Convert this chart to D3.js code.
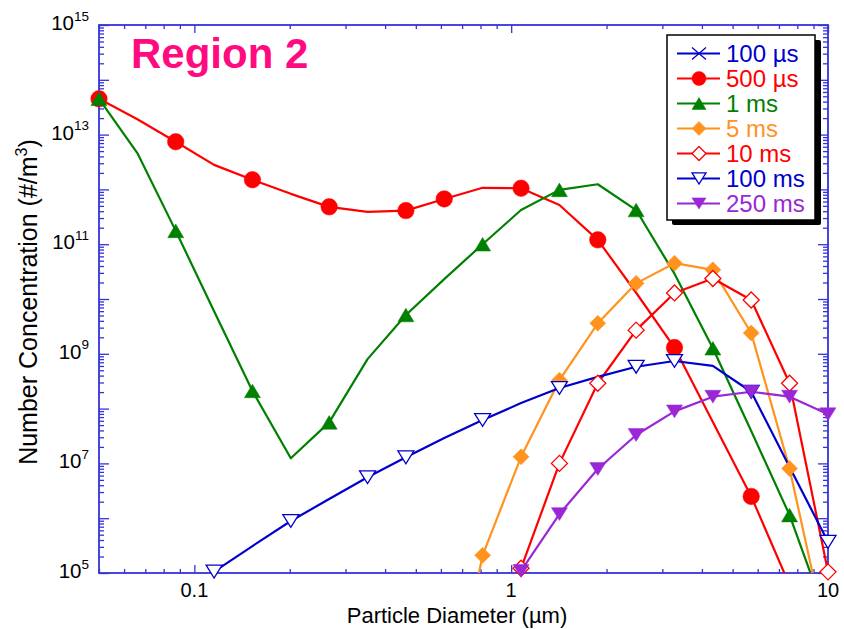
<!DOCTYPE html>
<html><head><meta charset="utf-8">
<script src="https://cdn.jsdelivr.net/npm/d3@7"></script>
<style>
body{margin:0;background:#fff}
svg{display:block}
text{font-family:"Liberation Sans",Arial,Helvetica,sans-serif}
</style>
</head><body>
<svg id="c" width="844" height="629"></svg>
<script>
// ---- data ----
const diameters = [0.05, 0.06608, 0.08733, 0.11541, 0.15252, 0.20156, 0.26637, 0.35201, 0.46519, 0.61475,
                   0.81241, 1.0743, 1.4199, 1.8764, 2.4797, 3.2770, 4.3306, 5.7229, 7.5628, 10.0];
const seriesNames = ["100 µs", "500 µs", "1 ms", "5 ms", "10 ms", "100 ms", "250 ms"];
const s100us = [];
const s500us = [4.5e13, 1.9e13, 7.4e12, 2.8e12, 1.5e12, 8.3e11, 4.8e11, 3.9e11, 4.1e11, 6.7e11,
                1.07e12, 1.05e12, 5.2e11, 1.2e11, 1.3e10, 1.3e9, 5.7e7, 2.5e6, 6e4, null];
const s1ms   = [4.5e13, 4.6e12, 1.75e11, 6.0e9, 2.1e8, 1.24e7, 5.6e7, 8.0e8, 5.1e9, 2.3e10,
                1.0e11, 4.2e11, 9.8e11, 1.24e12, 4.2e11, 2.9e10, 1.26e9, 3.9e7, 1.14e6, 1.3e4];
const s5ms   = [null, null, null, null, null, null, null, null, null, 80,
                2.1e5, 1.32e7, 3.3e8, 3.6e9, 1.93e10, 4.5e10, 3.4e10, 2.4e9, 8.1e6, 5.2e3];
const s10ms  = [null, null, null, null, null, null, null, null, null, null,
                null, 1.22e5, 1.0e7, 2.9e8, 2.7e9, 1.29e10, 2.37e10, 9.6e9, 2.9e8, 1.05e5];
const s100ms = [null, null, null, 1.06e5, 3.1e5, 8.9e5, 2.24e6, 5.6e6, 1.29e7, 2.9e7,
                6.2e7, 1.26e8, 2.38e8, 3.8e8, 5.8e8, 7.4e8, 6.0e8, 2.03e8, 8.6e6, 3.7e5];
const s250ms = [null, null, null, null, null, null, null, null, null, null,
                null, 1.09e5, 1.19e6, 7.9e6, 3.3e7, 8.9e7, 1.65e8, 2.03e8, 1.65e8, 7.9e7];
// indices of points that carry a marker
const m100us = [];
const m500us = [0, 2, 4, 6, 8, 9, 11, 13, 15, 17];
const m1ms   = [0, 2, 4, 6, 8, 10, 12, 14, 16, 18];
const m5ms   = [10, 11, 12, 13, 14, 15, 16, 17, 18];
const m10ms  = [11, 12, 13, 14, 15, 16, 17, 18, 19];
const m100ms = [3, 5, 7, 8, 10, 12, 14, 15, 17, 19];
const m250ms = [11, 12, 13, 14, 15, 16, 17, 18, 19];
const xTickLabels = ["0.1", "1", "10"];
const yLabelExponents = [5, 7, 9, 11, 13, 15];

// ---- style ----
const styles = [
  {color:"#0000cc", marker:"x"},
  {color:"#ff0000", marker:"circle"},
  {color:"#008000", marker:"triUp"},
  {color:"#ff931e", marker:"diamond"},
  {color:"#ff0000", marker:"diamondOpen"},
  {color:"#0000cc", marker:"triDownOpen"},
  {color:"#9a27d6", marker:"triDown"}
];
const seriesVals = [s100us, s500us, s1ms, s5ms, s10ms, s100ms, s250ms];
const seriesMarks = [m100us, m500us, m1ms, m5ms, m10ms, m100ms, m250ms];

const L = 99, R = 828, T = 25, B = 573;
const axisColor = "#3333dd";
const svg = d3.select("#c");

const x = d3.scaleLog().domain([0.05, 10]).range([L, R]);
const y = d3.scaleLog().domain([1e5, 1e15]).range([B, T]);

svg.append("defs").append("clipPath").attr("id", "clip")
  .append("rect").attr("x", L).attr("y", T).attr("width", R - L).attr("height", B - T);

// ---- axes ----
const isMajor = v => Math.abs(Math.log10(v) - Math.round(Math.log10(v))) < 1e-6;
const xt = x.ticks();
const xMaj = xt.filter(isMajor), xMin = xt.filter(v => !isMajor(v));
const yt = y.ticks(20);
const yMaj = yt.filter(isMajor), yMin = yt.filter(v => !isMajor(v));

function styleAxis(g){
  g.select(".domain").remove();
  g.selectAll(".tick line").attr("stroke", axisColor).attr("stroke-width", 1.3);
  g.selectAll(".tick text").remove();
}
svg.append("g").attr("transform", `translate(0,${B})`).call(d3.axisBottom(x).tickValues(xMin).tickSize(-4)).call(styleAxis);
svg.append("g").attr("transform", `translate(0,${B})`).call(d3.axisBottom(x).tickValues(xMaj).tickSize(-8)).call(styleAxis);
svg.append("g").attr("transform", `translate(0,${T})`).call(d3.axisTop(x).tickValues(xMin).tickSize(-4)).call(styleAxis);
svg.append("g").attr("transform", `translate(0,${T})`).call(d3.axisTop(x).tickValues(xMaj).tickSize(-8)).call(styleAxis);
svg.append("g").attr("transform", `translate(${L},0)`).call(d3.axisLeft(y).tickValues(yMin).tickSize(-5)).call(styleAxis);
svg.append("g").attr("transform", `translate(${L},0)`).call(d3.axisLeft(y).tickValues(yMaj).tickSize(-10)).call(styleAxis);
svg.append("g").attr("transform", `translate(${R},0)`).call(d3.axisRight(y).tickValues(yMin).tickSize(-5)).call(styleAxis);
svg.append("g").attr("transform", `translate(${R},0)`).call(d3.axisRight(y).tickValues(yMaj).tickSize(-10)).call(styleAxis);

svg.append("rect").attr("x", L).attr("y", T).attr("width", R - L).attr("height", B - T)
  .attr("fill", "none").attr("stroke", axisColor).attr("stroke-width", 1.8);

// tick labels
xMaj.forEach((v, i) => {
  svg.append("text").attr("x", x(v)).attr("y", 597).attr("text-anchor", "middle")
    .attr("font-size", 20).attr("fill", "#000").text(xTickLabels[i]);
});
yLabelExponents.forEach(e => {
  const t = svg.append("text").attr("x", 89).attr("y", y(Math.pow(10, e)) + 5)
    .attr("text-anchor", "end").attr("fill", "#000");
  t.append("tspan").attr("font-size", 20.5).text("10");
  t.append("tspan").attr("font-size", 13.5).attr("dy", -9.5).text(String(e));
});

// axis titles
svg.append("text").attr("x", 457).attr("y", 623).attr("text-anchor", "middle")
  .attr("font-size", 22).attr("fill", "#000").text("Particle Diameter (µm)");
const yt2 = svg.append("text").attr("transform", "translate(37,302) rotate(-90)")
  .attr("text-anchor", "middle").attr("font-size", 25).attr("fill", "#000");
yt2.append("tspan").text("Number Concentration (#/m");
yt2.append("tspan").attr("font-size", 16).attr("dy", -10).text("3");
yt2.append("tspan").attr("dy", 10).text(")");

svg.append("text").attr("x", 131).attr("y", 68).attr("font-size", 42).attr("font-weight", "bold")
  .attr("fill", "#ff0a80").text("Region 2");

// ---- markers ----
function markerPath(type, s){
  const h = s / 2;
  switch(type){
    case "circle": return d3.path ? `M${-h},0A${h},${h} 0 1,0 ${h},0A${h},${h} 0 1,0 ${-h},0Z` : "";
    case "triUp": return `M0,${-h*0.85}L${h},${h*0.85}L${-h},${h*0.85}Z`;
    case "triDown":
    case "triDownOpen": return `M${-h},${-h*0.8}L${h},${-h*0.8}L0,${h*0.8}Z`;
    case "diamond":
    case "diamondOpen": return `M0,${-h}L${h},0L0,${h}L${-h},0Z`;
    case "x": return `M${-h},${-h*0.85}L${h},${h*0.85}M${-h},${h*0.85}L${h},${-h*0.85}`;
  }
}
function drawMarker(g, type, color, cx, cy, s){
  const open = type.endsWith("Open") || type === "x";
  g.append("path").attr("d", markerPath(type, s)).attr("transform", `translate(${cx},${cy})`)
    .attr("fill", type === "x" ? "none" : (open ? "#fff" : color))
    .attr("stroke", color).attr("stroke-width", open ? 1.3 : 0.5);
}

const line = d3.line().defined(d => d[1] != null).x(d => x(d[0])).y(d => y(d[1]));
const plot = svg.append("g");
seriesVals.forEach((vals, k) => {
  const pts = diameters.map((d, i) => [d, vals[i] == null ? null : vals[i]]);
  if (!vals.length) return;
  plot.append("path").datum(pts).attr("clip-path", "url(#clip)").attr("d", line)
    .attr("fill", "none").attr("stroke", styles[k].color).attr("stroke-width", 2.2)
    .attr("stroke-linejoin", "round");
});
seriesVals.forEach((vals, k) => {
  const mg = plot.append("g");
  seriesMarks[k].forEach(i => {
    const sz = styles[k].marker === "circle" ? 16.5 : 16;
    drawMarker(mg, styles[k].marker, styles[k].color, x(diameters[i]), y(vals[i]), sz);
  });
});

// ---- legend ----
const lg = svg.append("g");
lg.append("rect").attr("x", 672).attr("y", 40).attr("width", 149).attr("height", 185).attr("rx", 2).attr("fill", "#000");
lg.append("rect").attr("x", 667).attr("y", 35).attr("width", 148).attr("height", 185)
  .attr("fill", "#fff").attr("stroke", "#000").attr("stroke-width", 1.5);
seriesNames.forEach((n, k) => {
  const cy = 53.5 + k * 25;
  lg.append("line").attr("x1", 677).attr("x2", 720).attr("y1", cy).attr("y2", cy)
    .attr("stroke", styles[k].color).attr("stroke-width", 2.2);
  drawMarker(lg, styles[k].marker, styles[k].color, 699, cy, 14);
  lg.append("text").attr("x", 726).attr("y", cy + 8.5).attr("font-size", 24)
    .attr("fill", styles[k].color).text(n);
});
</script>
</body></html>
